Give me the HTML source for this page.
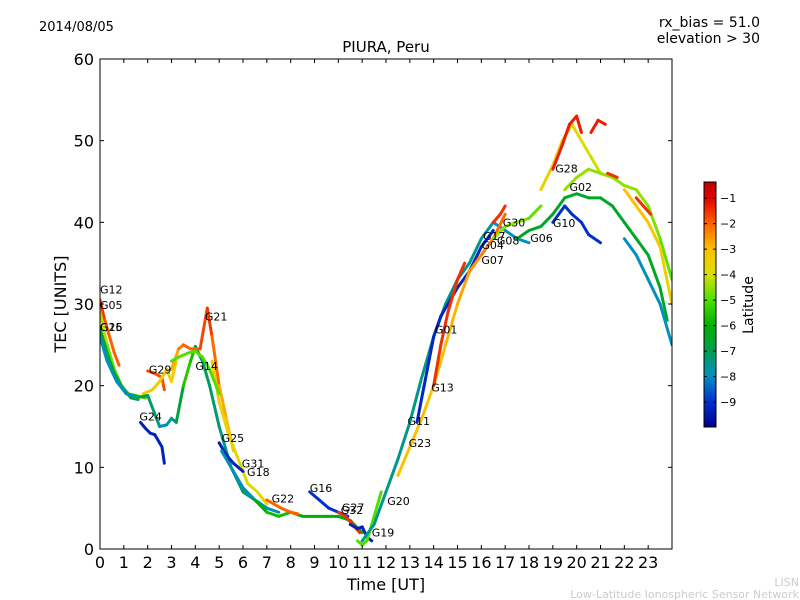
<!DOCTYPE html>
<html><head><meta charset="utf-8">
<style>
body{margin:0;background:#fff;}
svg{display:block;font-family:"DejaVu Sans","Liberation Sans",sans-serif;}
</style></head>
<body>
<svg id="chart" width="800" height="600" viewBox="0 0 800 600">
<defs>
<linearGradient id="cbgrad" x1="0" y1="1" x2="0" y2="0">
<stop offset="0" stop-color="#00008f"/>
<stop offset="0.104" stop-color="#0030d0"/>
<stop offset="0.208" stop-color="#0090c0"/>
<stop offset="0.312" stop-color="#00a050"/>
<stop offset="0.416" stop-color="#00b000"/>
<stop offset="0.52" stop-color="#50e000"/>
<stop offset="0.624" stop-color="#d8e000"/>
<stop offset="0.728" stop-color="#ffc000"/>
<stop offset="0.832" stop-color="#ff6000"/>
<stop offset="0.936" stop-color="#e00000"/>
<stop offset="1" stop-color="#c00000"/>
</linearGradient>
<clipPath id="plotclip"><rect x="100" y="59" width="572" height="490"/></clipPath>
</defs>
<text x="39" y="31" font-size="13">2014/08/05</text>
<text x="760" y="27" font-size="14" text-anchor="end">rx_bias = 51.0</text>
<text x="760" y="43" font-size="14" text-anchor="end">elevation &gt; 30</text>
<text x="386" y="52" font-size="15" text-anchor="middle">PIURA, Peru</text>
<g id="tracks" clip-path="url(#plotclip)"></g>
<g id="labels"></g>
<rect x="100" y="59" width="572" height="490" fill="none" stroke="#000" stroke-width="1"/>
<g id="axes"></g>
<text x="386" y="590" font-size="16" text-anchor="middle">Time [UT]</text>
<text transform="translate(66,304) rotate(-90)" font-size="16" text-anchor="middle">TEC [UNITS]</text>
<rect x="704" y="182" width="12" height="245" fill="url(#cbgrad)" stroke="#000" stroke-width="1"/>
<g id="cbticks"></g>
<text transform="translate(753,305) rotate(-90)" font-size="14" text-anchor="middle">Latitude</text>
<text x="799" y="586" font-size="11" fill="#ccc" text-anchor="end">LISN</text>
<text x="799" y="598" font-size="11" fill="#ccc" text-anchor="end">Low-Latitude Ionospheric Sensor Network</text>
</svg>
<script>
const xTicks=[0,1,2,3,4,5,6,7,8,9,10,11,12,13,14,15,16,17,18,19,20,21,22,23];
const yTicks=[0,10,20,30,40,50,60];
const cbTicks=[-1,-2,-3,-4,-5,-6,-7,-8,-9];
const trackTimes=[
[0,0.2,0.4,0.6,0.8],
[0,0.3,0.6,0.9,1.2,1.5,1.9],
[0,0.3,0.6,1,1.3,1.6],
[0,0.3,0.7,1.1,1.5],
[1.7,1.9,2.1,2.3,2.5,2.6,2.7],
[2,2.3,2.6,2.7],
[1.8,2.2,2.5,2.8,3.0,3.2],
[1.5,2,2.5,2.8,3,3.2,3.5,3.8,4],
[4,4.3,4.6,5,5.5,6,6.5,7],
[3,3.3,3.5,3.8,4.2,4.5,4.7,5,5.3,5.6],
[4.7,5,5.4,5.8,6.2,6.6,7],
[3,3.3,3.7,4,4.3,4.6,5],
[5,5.3,5.6,6],
[5.1,5.5,6,6.5,7,7.5],
[6.5,7,7.5,8,8.5,9,9.5,10,10.5,11],
[7,7.3,7.6,8,8.3],
[8.8,9.2,9.6,10,10.4],
[10,10.3,10.6,10.9],
[10.5,10.8,11,11.2,11.4],
[10.8,11,11.2,11.5,11.8],
[11,11.5,12,12.5,13,13.5,14,14.5,15,15.5,16,16.5,17,17.5,18],
[13.3,13.6,14,14.3,14.6,15,15.5,16,16.5],
[12.5,13,13.5,14,14.5,15,15.5,16,16.5,17],
[14,14.3,14.6,15,15.3],
[16.5,16.8,17],
[16.5,17,17.5,18,18.5],
[17.5,18,18.5,19,19.5,20,20.5,21,21.5,22,22.5,23,23.5,23.8],
[19,19.5,19.8,20.2,20.5,21],
[18.5,19,19.4,19.8,20.2,20.6,21],
[19,19.4,19.7,20,20.2],
[20.6,20.9,21.2],
[19.5,20,20.5,21,21.5,22,22.5,23,23.5,24],
[21.3,21.7],
[22,22.5,23,23.5,24],
[22.5,22.8,23.1],
[22,22.5,23,23.5,24]
];
const trackTec=[
[30.5,28,26,24,22.5],
[29,25,22,20,19,18.8,18.5],
[27,24,21.5,19.5,18.5,18.3],
[26,23,20.5,19,18.7],
[15.5,14.8,14.2,14,13,12.5,10.5],
[21.8,21.5,21,19.5],
[19,19.5,20.5,22,20.5,23],
[18.5,18.8,15,15.2,16,15.5,20,23,24.8],
[24.8,23,20,15,10,7,6,5],
[22,24.5,25,24.5,24.5,29.5,26,20,16,12],
[23,18,14,11,8,7,5.5],
[23,23.5,24,24.2,23.5,22,19],
[13,11.5,10.5,9.5],
[12,10,7.5,6,5,4.5],
[6,4.5,4,4.5,4,4,4,4,3.5,2],
[6,5.5,5,4.5,4.3],
[7,6,5,4.5,4],
[4.5,4,3,2],
[3,2.5,2.7,1.5,1],
[1,0.5,1,4,7],
[1,3,7,11,15.5,21,26,30,33,35,38,40,39,38,37.5],
[15.5,20,26,28.5,30,32,34,37,39],
[9,12.5,16,20,25,30,34,36,38,41],
[20,25,29,33,35],
[40,41,42],
[38,39.5,40,40.5,42],
[38,39,39.5,41,43,43.5,43,43,42,40,38,36,32,28],
[40,42,41,40,38.5,37.5],
[44,47,50,52,50,48,46],
[46.5,49.5,52,53,51],
[51,52.5,52],
[44,45.5,46.5,46,45.5,44.5,44,42,38,33],
[46,45.5],
[44,42,40,37,30],
[43,42,41],
[38,36,33,30,25]
];
const trackLat=[
[-1.5,-1.8,-2,-2,-2],
[-4,-4.5,-5,-5,-5.2,-5.3,-5.5],
[-6.5,-6.6,-6.7,-6.8,-6.9,-7],
[-8,-8,-8,-8,-8],
[-9.3,-9.3,-9.3,-9.3,-9.3,-9.3,-9.3],
[-1.8,-1.8,-1.8,-1.8],
[-3.3,-3.3,-3.3,-3.5,-3.5,-3.5],
[-6.5,-6.5,-8,-8,-7.5,-7.5,-6,-5,-6.5],
[-7,-7,-7,-7.5,-7.5,-7,-7,-7],
[-3,-2.5,-2,-2,-2,-1.5,-1.7,-2.5,-3,-3],
[-3.5,-3.5,-3.6,-3.7,-3.8,-3.8,-3.8],
[-5,-5,-5,-5,-5,-5,-5],
[-9.3,-9.3,-9.3,-9.3],
[-8,-8,-8,-8,-8,-8],
[-6,-6,-5.5,-6,-6,-6,-6,-6,-6,-6],
[-2,-2,-2,-2,-2],
[-9,-9,-9,-9,-9],
[-1.5,-1.5,-1.5,-1.5],
[-9.3,-9.3,-9.3,-9.3,-9.3],
[-5,-5,-5,-5,-5],
[-7.5,-7.5,-7.5,-7.5,-7.5,-7.5,-7.5,-7.5,-7.5,-7.5,-7.5,-8,-8,-8,-8],
[-9.2,-9.2,-9.2,-9.2,-9.2,-9.2,-9.2,-9.2,-9.2],
[-3,-3,-3,-3,-3,-2.8,-2.6,-2.4,-2.2,-2],
[-1.5,-1.5,-1.5,-1.5,-1.5],
[-1.5,-1.5,-1.5],
[-4.5,-4.5,-4.5,-4.8,-5],
[-6.5,-6.5,-6.5,-6.5,-6.5,-6.5,-6.5,-6.5,-6.5,-6.5,-6.5,-6.5,-6.5,-6.5],
[-9,-9,-9,-9,-9,-9],
[-3.5,-3.5,-3.5,-3.5,-3.8,-4,-4.2],
[-1.3,-1.3,-1.3,-1.3,-1.3],
[-1.3,-1.3,-1.3],
[-4.5,-4.5,-4.5,-4.5,-4.5,-4.5,-4.5,-4.5,-4.8,-5],
[-1.5,-1.5],
[-3,-3,-3.2,-3.4,-3.6],
[-1.5,-1.5,-1.5],
[-8,-8,-8,-8,-8]
];
const labelNames=["G12","G05","G26","G15","G21","G29","G14","G24","G25","G31","G18","G22","G16","G27","G32","G19","G20","G23","G11","G13","G01","G07","G04","G17","G08","G30","G06","G10","G28","G02"];
const labelTimes=[0,0,0,0,4.4,2.05,4.0,1.65,5.1,5.95,6.17,7.2,8.8,10.15,10.1,11.4,12.05,12.95,12.9,13.9,14.05,16,16,16.07,16.65,16.9,18.05,19,19.1,19.7];
const labelTec=[31.8,29.9,27.2,27.2,28.5,22,22.4,16.2,13.6,10.5,9.4,6.2,7.5,5.1,4.8,2,5.9,13,15.7,19.8,26.9,35.4,37.2,38.3,37.8,40,38.1,39.9,46.6,44.3];

const X0=100,X1=672,Y0=549,Y1=59;
function xs(t){return X0+t*(X1-X0)/24;}
function ys(v){return Y0-v*(Y0-Y1)/60;}
const cStops=[[-10,[0,0,143]],[-9,[0,48,208]],[-8,[0,144,192]],[-7,[0,160,80]],[-6,[0,176,0]],[-5,[80,224,0]],[-4,[216,224,0]],[-3,[255,192,0]],[-2,[255,96,0]],[-1,[224,0,0]],[-0.4,[192,0,0]]];
function latColor(l){
 if(l<=cStops[0][0])return 'rgb('+cStops[0][1]+')';
 for(let i=1;i<cStops.length;i++){
  if(l<=cStops[i][0]){const a=cStops[i-1],b=cStops[i];const f=(l-a[0])/(b[0]-a[0]);
   const c=a[1].map((v,k)=>Math.round(v+f*(b[1][k]-v)));return 'rgb('+c.join(',')+')';}
 }
 return 'rgb(192,0,0)';
}
const NS='http://www.w3.org/2000/svg';
const tg=document.getElementById('tracks');
trackTimes.forEach((ts,i)=>{
 const g=document.createElementNS(NS,'g');
 
 
 for(let j=0;j<ts.length-1;j++){
  const ln=document.createElementNS(NS,'line');
  ln.setAttribute('x1',xs(ts[j]));ln.setAttribute('y1',ys(trackTec[i][j]));
  ln.setAttribute('x2',xs(ts[j+1]));ln.setAttribute('y2',ys(trackTec[i][j+1]));
  ln.setAttribute('stroke',latColor((trackLat[i][j]+trackLat[i][j+1])/2));
  ln.setAttribute('stroke-width','3');ln.setAttribute('stroke-linecap','round');
  
  
  g.appendChild(ln);
 }
 tg.appendChild(g);
});
const lg=document.getElementById('labels');
labelNames.forEach((n,i)=>{
 const t=document.createElementNS(NS,'text');
 t.setAttribute('x',xs(labelTimes[i]));t.setAttribute('y',ys(labelTec[i])+4);
 t.setAttribute('font-size','11');t.textContent=n;
 
 
 lg.appendChild(t);
});
const ag=document.getElementById('axes');
xTicks.forEach(v=>{
 const x=xs(v);
 ['M'+x+' '+Y0+'v-4','M'+x+' '+Y1+'v4'].forEach(d=>{const p=document.createElementNS(NS,'path');p.setAttribute('d',d);p.setAttribute('stroke','#000');
  
  
  ag.appendChild(p);});
 const t=document.createElementNS(NS,'text');t.setAttribute('x',x);t.setAttribute('y',568);t.setAttribute('font-size','16');t.setAttribute('text-anchor','middle');t.textContent=v;
 
 
 ag.appendChild(t);
});
yTicks.forEach(v=>{
 const y=ys(v);
 ['M'+X0+' '+y+'h4','M'+X1+' '+y+'h-4'].forEach(d=>{const p=document.createElementNS(NS,'path');p.setAttribute('d',d);p.setAttribute('stroke','#000');
  
  
  ag.appendChild(p);});
 const t=document.createElementNS(NS,'text');t.setAttribute('x',94);t.setAttribute('y',y+6);t.setAttribute('font-size','16');t.setAttribute('text-anchor','end');t.textContent=v;
 
 
 ag.appendChild(t);
});
const cg=document.getElementById('cbticks');
cbTicks.forEach(v=>{
 const y=182+(-0.37-v)*25.5;
 const p=document.createElementNS(NS,'path');p.setAttribute('d','M704 '+y+'h3M716 '+y+'h-3');p.setAttribute('stroke','#000');
 
 
 cg.appendChild(p);
 const t=document.createElementNS(NS,'text');t.setAttribute('x',720);t.setAttribute('y',y+4);t.setAttribute('font-size','11');t.textContent='\u2212'+(-v);
 
 
 cg.appendChild(t);
});
</script>
</body></html>
